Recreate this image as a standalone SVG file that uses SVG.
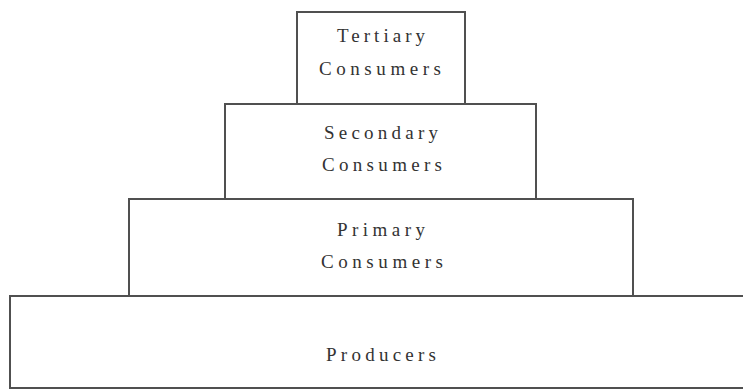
<svg xmlns="http://www.w3.org/2000/svg" width="743" height="390" viewBox="0 0 743 390">
<style>
.box{fill:#ffffff;stroke:#505050;stroke-width:2}
.t{font-family:"Liberation Serif","Times New Roman",serif;font-size:19px;fill:#333333;text-anchor:middle}
</style>
<rect width="743" height="390" fill="#ffffff"/>
<g id="producers"><rect class="box" x="10" y="296" width="740" height="92"/><text class="t" x="381" y="361" textLength="110" lengthAdjust="spacing">Producers</text></g>
<g id="primary"><rect class="box" x="129" y="199" width="504" height="97"/><text class="t" x="381" y="236" textLength="88" lengthAdjust="spacing">Primary</text><text class="t" x="382" y="268" textLength="122" lengthAdjust="spacing">Consumers</text></g>
<g id="secondary"><rect class="box" x="225" y="104" width="311" height="95"/><text class="t" x="381" y="139" textLength="114" lengthAdjust="spacing">Secondary</text><text class="t" x="382" y="171" textLength="120" lengthAdjust="spacing">Consumers</text></g>
<g id="tertiary"><rect class="box" x="297" y="12" width="168" height="92"/><text class="t" x="381" y="42" textLength="88" lengthAdjust="spacing">Tertiary</text><text class="t" x="380" y="75" textLength="122" lengthAdjust="spacing">Consumers</text></g>
<g id="connectors"></g>
</svg>
